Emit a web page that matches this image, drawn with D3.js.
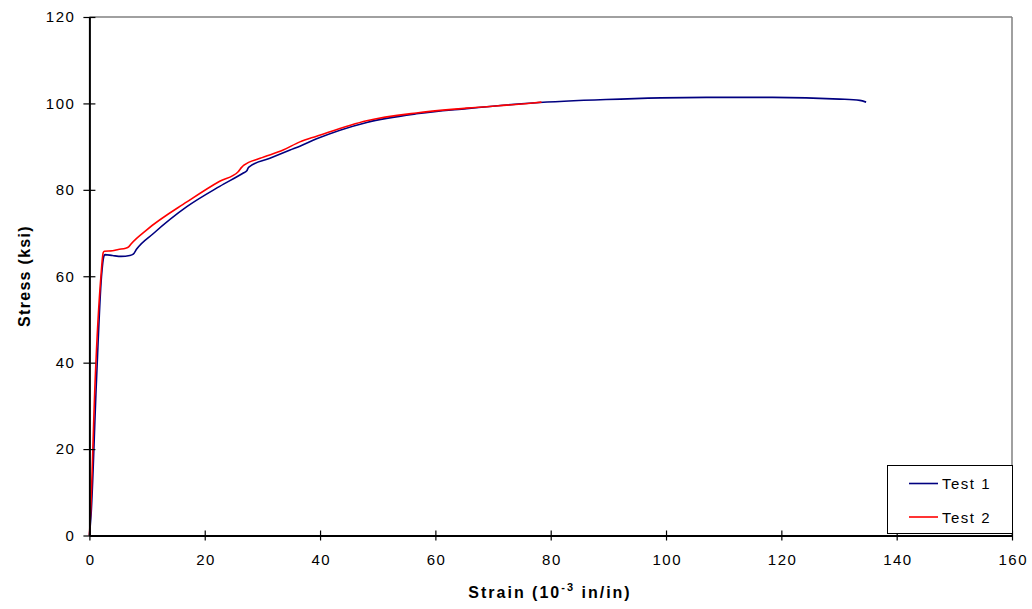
<!DOCTYPE html>
<html><head><meta charset="utf-8">
<script src="https://cdn.jsdelivr.net/npm/d3@7"></script>
<style>body{margin:0;background:#fff}svg{display:block}text{font-family:"Liberation Sans",Arial,sans-serif}</style>
</head><body><svg id="c" width="1032" height="609"></svg>
<script>
const xTicks = [0,20,40,60,80,100,120,140,160];
const yTicks = [0,20,40,60,80,100,120];
const seriesNames = ["Test 1","Test 2"];
const seriesColors = ["#000080","#ff0000"];
const test1Strain = [0,0.3,1.2,2.1,2.5,2.7,4,5.5,7,7.6,8.2,11.1,16.9,22.6,26.7,27.3,27.6,31.3,34.8,36.5,39.4,48.1,56.7,65.4,76.9,89.6,107,118.5,130.1,133.6,134.7];
const test1Stress = [0,5,35,60,64.6,65.0,64.8,64.6,64.8,65.1,66.3,69.9,76.1,80.8,83.9,84.4,85.2,87.3,89.2,90.1,91.8,95.6,97.6,98.8,100.1,100.9,101.4,101.4,101.0,100.7,100.3];
const test2Strain = [0,0.2,1.0,2.0,2.4,2.6,4,5,6.3,6.8,7.3,9.9,16.9,22.6,25.8,26.4,26.8,29.6,33.6,36.5,39.4,48.1,56.7,65.4,76.9,78.4];
const test2Stress = [0,5,36,60,65.5,65.8,65.9,66.2,66.5,66.8,67.6,70.7,77.2,82.0,84.2,85.2,85.7,87.3,89.2,91.1,92.4,96.0,97.8,98.9,100.1,100.3];

const svg = d3.select("#c");
const L=89.4, R=1012, T=17, B=535.5;
const x = d3.scaleLinear().domain([0,160]).range([L,R]);
const y = d3.scaleLinear().domain([0,120]).range([B,T]);

// frame top/right
svg.append("line").attr("x1",L).attr("x2",R).attr("y1",T).attr("y2",T).attr("stroke","#808080").attr("stroke-width",1.5);
svg.append("line").attr("x1",R).attr("x2",R).attr("y1",T).attr("y2",B).attr("stroke","#808080").attr("stroke-width",1.5);

// data lines
const series = [
  {name:seriesNames[0], color:seriesColors[0], pts:d3.zip(test1Strain,test1Stress)},
  {name:seriesNames[1], color:seriesColors[1], pts:d3.zip(test2Strain,test2Stress)}
];
const line = d3.line().x(d=>x(d[0])).y(d=>y(d[1])).curve(d3.curveMonotoneX);
series.forEach(s=>{
  svg.append("path").attr("d",line(s.pts)).attr("fill","none").attr("stroke",s.color).attr("stroke-width",1.6).attr("stroke-linejoin","round");
});

// axes
const xAxis = d3.axisBottom(x).tickValues(xTicks).tickSize(0).tickPadding(19);
const gx = svg.append("g").attr("transform",`translate(0,${B})`).call(xAxis);
gx.select(".domain").attr("stroke","#000").attr("stroke-width",2);
gx.selectAll(".tick line").remove();
gx.selectAll(".tick").append("line").attr("y1",-5).attr("y2",5).attr("stroke","#000").attr("stroke-width",1.2);
gx.selectAll("text").attr("font-size",15).attr("fill","#000").attr("letter-spacing","1.5px").attr("dx","0.75px");

const yAxis = d3.axisLeft(y).tickValues(yTicks).tickSize(0).tickPadding(14);
const gy = svg.append("g").attr("transform",`translate(${L},0)`).call(yAxis);
gy.select(".domain").attr("stroke","#000").attr("stroke-width",2);
gy.selectAll(".tick line").remove();
gy.selectAll(".tick").append("line").attr("x1",-6).attr("x2",6).attr("stroke","#000").attr("stroke-width",1.2);
gy.selectAll("text").attr("font-size",15).attr("fill","#000").attr("letter-spacing","1.5px");

// axis titles
const xt = svg.append("text").attr("x",550).attr("y",598).attr("text-anchor","middle").attr("font-size",16).attr("font-weight","bold").attr("letter-spacing","2px");
xt.append("tspan").text("Strain (10");
xt.append("tspan").attr("dy",-7).attr("font-size",11).text("-3");
xt.append("tspan").attr("dy",7).text(" in/in)");
svg.append("text").attr("transform","translate(30,276) rotate(-90)").attr("text-anchor","middle").attr("font-size",16).attr("font-weight","bold").attr("letter-spacing","1.3px").text("Stress (ksi)");

// legend
const lg = svg.append("g");
lg.append("rect").attr("x",887.5).attr("y",465.5).attr("width",125).attr("height",68).attr("fill","#fff").attr("stroke","#000").attr("stroke-width",1);
series.forEach((s,i)=>{
  const cy = 483.5 + i*33.5;
  lg.append("line").attr("x1",909).attr("x2",938).attr("y1",cy).attr("y2",cy).attr("stroke",s.color).attr("stroke-width",1.6);
  lg.append("text").attr("x",942).attr("y",cy+5.5).attr("font-size",15).attr("letter-spacing","1.5px").text(s.name);
});
</script></body></html>
